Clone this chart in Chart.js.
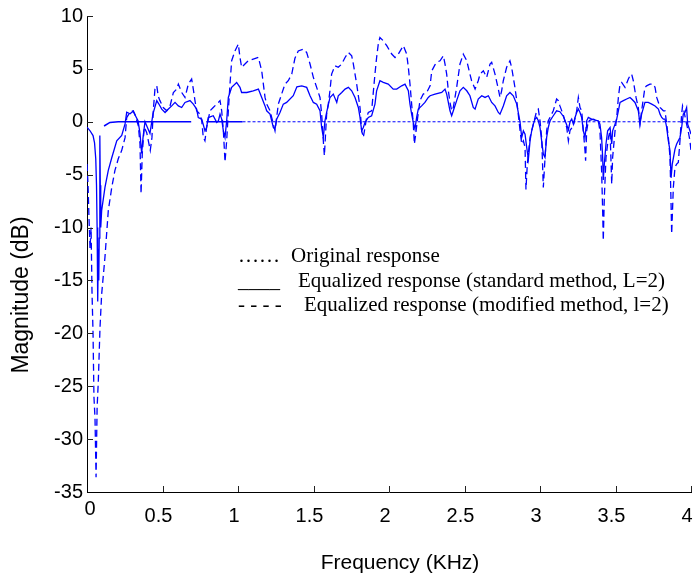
<!DOCTYPE html>
<html><head><meta charset="utf-8">
<script src="https://cdn.jsdelivr.net/npm/chart.js@4.4.1/dist/chart.umd.min.js"></script>
<style>html,body{margin:0;padding:0;background:#fff}#c{display:block}</style>
</head><body>
<canvas id="c" width="693" height="575"></canvas>
<script>
// ---------- data ----------
const freqOrig = [0.113, 0.152, 0.207, 0.69, 0.74, 0.79, 1.03, 4.0];
const magOrig  = [-0.4, -0.06, 0, 0, null, 0, 0, 0];

const freqStd = [0,0.02,0.04,0.05,0.058,0.063,0.067,0.07,0.072,0.075,0.078,0.081,0.084,0.086,0.088,0.091,0.097,0.119,0.141,0.164,0.197,0.23,0.252,0.263,0.285,0.305,0.338,0.351,0.362,0.371,0.384,0.417,0.437,0.462,0.475,0.495,0.517,0.539,0.561,0.583,0.605,0.627,0.649,0.682,0.704,0.726,0.737,0.76,0.781,0.792,0.803,0.836,0.859,0.87,0.881,0.892,0.903,0.914,0.925,0.936,0.958,0.991,1.013,1.024,1.058,1.101,1.135,1.157,1.179,1.19,1.212,1.234,1.245,1.256,1.278,1.3,1.322,1.366,1.39,1.422,1.455,1.477,1.499,1.521,1.543,1.554,1.565,1.576,1.587,1.609,1.631,1.654,1.664,1.687,1.709,1.731,1.753,1.775,1.797,1.808,1.819,1.83,1.841,1.863,1.885,1.907,1.918,1.94,1.962,1.995,2.028,2.051,2.084,2.106,2.128,2.139,2.15,2.161,2.172,2.183,2.194,2.216,2.238,2.26,2.272,2.305,2.349,2.371,2.382,2.393,2.404,2.415,2.426,2.448,2.47,2.492,2.515,2.536,2.558,2.57,2.591,2.614,2.636,2.658,2.68,2.702,2.724,2.735,2.757,2.779,2.801,2.823,2.846,2.856,2.868,2.879,2.89,2.901,2.912,2.923,2.934,2.945,2.956,2.967,2.978,2.989,3.0,3.011,3.022,3.033,3.044,3.055,3.066,3.088,3.11,3.132,3.155,3.177,3.188,3.199,3.21,3.221,3.232,3.243,3.254,3.265,3.276,3.287,3.298,3.305,3.309,3.32,3.342,3.364,3.386,3.397,3.408,3.415,3.419,3.426,3.437,3.448,3.464,3.475,3.481,3.497,3.508,3.519,3.53,3.552,3.574,3.596,3.607,3.629,3.651,3.662,3.673,3.695,3.717,3.74,3.762,3.784,3.795,3.806,3.817,3.828,3.839,3.85,3.861,3.868,3.876,3.894,3.905,3.927,3.938,3.949,3.96,3.971,3.978,3.993,4.0];
const magStd  = [-0.5,-0.85,-1.3,-2.0,-3.5,-6,-10,-14,-17,-12,-15,-11,-6,-1.3,-6,-10,-8.4,-6.2,-4.6,-3.4,-1.8,-1.3,-0.2,0.9,0.75,1.0,0.1,-1.1,-3,-1.5,0,-1.1,0.75,2,1.7,1.2,0.88,1.2,1.5,1.83,1.5,1.35,1.83,2.0,1.67,1.2,0.4,0.25,-0.85,-0.54,0.4,0.57,-0.06,0.09,0.72,0.25,-0.85,-1.48,0.09,2.3,3.25,3.72,3.25,2.77,2.77,2.93,3.09,2.3,1.5,1.04,0.72,-0.54,-0.69,0.25,0.88,1.67,1.83,2.46,3.3,3.4,3.25,2.46,1.83,1.67,1.04,-0.54,-1.48,0.09,0.88,2.3,2.62,1.83,2.46,2.77,3.09,3.25,2.93,2.3,1.35,0.41,-0.85,-0.54,-0.06,0.41,0.57,1.67,2.93,3.88,3.72,3.56,3.09,3.09,3.4,3.56,2.93,1.67,0.72,-0.06,-0.69,0.41,1.2,1.5,1.83,2.3,2.46,2.62,2.77,3.09,2.62,1.83,1.04,0.57,1.04,2.0,2.93,3.25,2.93,2.46,1.35,1.2,2.15,2.46,2.3,2.46,1.83,1.5,0.88,0.72,1.5,2.46,2.77,2.46,1.67,0.88,-0.06,-1.48,-0.85,-1.17,-2.43,-3.53,-1.8,-0.85,-0.22,0.25,0.41,0.09,-0.54,-1.8,-3.06,-3.37,-1.48,-0.54,0.09,0.57,1.04,0.95,0.5,-0.3,-0.75,0,0.25,-0.22,0.41,0.88,1.2,0.88,0.41,-0.85,-1.48,-0.54,0.09,0.41,0.25,0.15,0.09,-0.22,-1.48,-3.37,-5.5,-4.0,-2.1,-0.85,-0.54,-2.1,-0.85,-0.22,0.25,1.04,1.83,2.0,2.15,2.3,2.15,1.83,1.04,-0.22,0.72,1.83,1.83,1.67,1.5,1.2,0.72,0.41,0.25,0.25,-0.54,-1.8,-2.74,-5.3,-4.0,-2.58,-2.1,-1.48,-0.54,0.72,0.88,1.35,-0.22,-0.85,-1.17];

const freqMod = [0,0.007,0.013,0.02,0.027,0.033,0.04,0.046,0.053,0.06,0.067,0.075,0.086,0.097,0.119,0.141,0.164,0.185,0.207,0.23,0.252,0.263,0.285,0.307,0.318,0.34,0.351,0.358,0.366,0.379,0.395,0.419,0.43,0.439,0.45,0.462,0.472,0.483,0.505,0.528,0.55,0.572,0.594,0.605,0.627,0.649,0.671,0.693,0.704,0.715,0.726,0.748,0.76,0.77,0.781,0.792,0.815,0.836,0.87,0.881,0.892,0.903,0.909,0.914,0.925,0.936,0.947,0.958,0.98,1.002,1.013,1.024,1.046,1.068,1.101,1.135,1.157,1.168,1.179,1.19,1.212,1.234,1.245,1.256,1.267,1.289,1.311,1.333,1.356,1.377,1.399,1.432,1.455,1.477,1.499,1.521,1.543,1.554,1.565,1.572,1.581,1.587,1.598,1.609,1.62,1.642,1.664,1.687,1.709,1.731,1.753,1.764,1.775,1.786,1.808,1.819,1.83,1.841,1.852,1.863,1.885,1.907,1.918,1.929,1.94,1.962,1.985,2.018,2.04,2.062,2.095,2.117,2.128,2.139,2.15,2.161,2.168,2.177,2.19,2.205,2.227,2.25,2.272,2.283,2.305,2.316,2.338,2.36,2.371,2.382,2.393,2.404,2.415,2.426,2.448,2.47,2.492,2.515,2.536,2.547,2.57,2.591,2.603,2.625,2.647,2.669,2.68,2.702,2.724,2.735,2.746,2.757,2.779,2.801,2.812,2.823,2.834,2.846,2.856,2.868,2.879,2.89,2.901,2.907,2.916,2.934,2.956,2.978,2.989,3.0,3.011,3.022,3.033,3.044,3.055,3.066,3.088,3.11,3.121,3.132,3.155,3.177,3.188,3.199,3.221,3.243,3.254,3.265,3.276,3.287,3.298,3.302,3.309,3.32,3.353,3.386,3.397,3.408,3.415,3.419,3.426,3.437,3.453,3.464,3.475,3.481,3.497,3.508,3.519,3.53,3.541,3.563,3.585,3.596,3.607,3.618,3.636,3.651,3.662,3.673,3.695,3.706,3.728,3.75,3.762,3.773,3.795,3.817,3.828,3.839,3.85,3.861,3.868,3.872,3.883,3.894,3.905,3.916,3.927,3.938,3.944,3.953,3.966,3.981,3.993,4.0];
const magMod  = [-4,-6,-9,-12,-10,-16,-20,-26,-28,-33.6,-27,-24.5,-19.5,-16.3,-12.8,-8.4,-6.2,-4.6,-3.5,-2.7,-1.5,0.4,0.9,1.04,0.7,-0.38,-2.1,-6.8,-3,-0.5,-1.0,-2.7,-1.5,1.04,3.1,3.4,2.4,2.0,1.35,1.04,1.5,2.77,3.09,3.56,2.77,2.3,3.56,4.04,3.09,2.0,1.04,0.72,0.09,-1.48,-1.8,-0.54,1.04,1.35,1.83,2.0,1.04,-0.85,-2.43,-3.8,-1.8,1.04,3.56,5.77,6.7,7.34,6.1,5.15,5.46,5.77,5.93,6.1,4.82,3.56,2.3,1.67,1.04,-0.22,-0.85,0.41,1.67,2.62,3.56,3.88,4.51,6.0,6.7,6.87,6.55,5.46,4.2,3.25,2.3,0.72,-1.8,-3.21,-0.85,0.72,1.67,2.93,4.51,5.3,5.15,5.46,6.08,6.55,6.24,5.46,4.51,3.56,1.35,-0.85,-1.48,-0.54,0.41,0.88,1.04,4.51,6.08,7.34,7.97,7.66,7.19,6.4,6.08,6.4,7.19,6.4,5.15,3.56,1.67,-0.22,-2.1,-1.17,0.41,2.0,2.62,2.77,3.4,4.8,5.4,5.62,5.77,6.24,5.46,4.51,2.93,1.83,1.04,1.35,3.25,5.46,6.4,5.77,4.51,3.88,3.09,3.88,4.51,4.82,4.2,5.46,5.62,4.51,3.09,2.3,2.93,3.88,5.15,5.77,5.15,4.2,3.25,2.0,0.72,-0.85,-2.1,-1.8,-2.43,-6.4,-4.0,-1.48,-0.22,1.04,1.2,0.09,-1.48,-6.2,-3.5,-0.85,0.09,0.41,1.04,2.15,2.0,1.5,0.6,-0.54,-1.8,-0.8,-0.38,1.04,2.3,1.35,1.04,-0.85,-2.74,-3.69,-0.85,0.09,0.25,0.09,-0.85,-4.63,-8.4,-11.24,-7.15,-3.37,-1.48,-0.85,-5.89,-3.37,-0.85,0.41,2.3,3.56,3.72,3.25,4.04,4.35,4.51,3.88,2.3,1.35,-0.22,1.04,3.25,3.4,3.56,3.56,3.25,2.3,1.35,1.04,1.04,-0.22,-1.48,-3.37,-7.78,-10.6,-6.2,-4.3,-4.0,-3.84,-1.8,0.72,1.5,1.04,0.09,-0.85,-1.8,-2.74];

const xTicks = [0, 0.5, 1, 1.5, 2, 2.5, 3, 3.5, 4];
const yTicks = [10, 5, 0, -5, -10, -15, -20, -25, -30, -35];
const seriesNames = ['Original response', 'Equalized response (standard method, L=2)', 'Equalized response (modified method, l=2)'];
const legendSymbols = ['\u2026\u2026', '____', '- - - -'];
const xTitle = 'Frequency (KHz)';
const yTitle = 'Magnitude (dB)';

// ---------- drawing ----------
const BLUE = '#0000ff';
const SANS = '"Liberation Sans", Arial, sans-serif';
const SERIF = '"Liberation Serif", "Times New Roman", serif';
const toPts = (xs, ys) => xs.map((x, i) => ({x: x, y: ys[i]}));
const noPad = s => { s.paddingLeft = 0; s.paddingRight = 0; s.paddingTop = 0; s.paddingBottom = 0; };

const decor = {
  id: 'decor',
  afterDraw(chart) {
    const c = chart.ctx, xs = chart.scales.x, ys = chart.scales.y, a = chart.chartArea;
    c.save();
    // inward tick marks
    c.strokeStyle = '#222'; c.lineWidth = 1;
    c.beginPath();
    yTicks.forEach(v => { const p = Math.round(ys.getPixelForValue(v)) + 0.5; if (v !== -35) { c.moveTo(a.left, p); c.lineTo(a.left + 6, p); } });
    xTicks.forEach(v => { const p = Math.round(xs.getPixelForValue(v)) + 0.5; if (v !== 0) { c.moveTo(p, a.bottom); c.lineTo(p, a.bottom - 6); } });
    c.stroke();
    // '0' label sits a bit higher than the others
    c.fillStyle = '#000';
    c.font = '20px ' + SANS; c.textAlign = 'center'; c.textBaseline = 'middle';
    c.fillText('0', xs.getPixelForValue(0) + 3, 509);
    // axis titles
    c.font = '21px ' + SANS;
    c.fillText(xTitle, 400, 563);
    c.save(); c.translate(22, 295); c.rotate(-Math.PI / 2);
    c.font = '23px ' + SANS; c.fillText(yTitle, 0, 0); c.restore();
    // legend (text only, as in the reference)
    c.font = '21px ' + SERIF; c.textAlign = 'left'; c.textBaseline = 'alphabetic';
    c.fillText(legendSymbols[0], 238, 262); c.fillText(seriesNames[0], 291, 262);
    c.fillText(legendSymbols[1], 238, 287); c.fillText(seriesNames[1], 298, 287);
    c.fillText(legendSymbols[2], 238, 311); c.fillText(seriesNames[2], 304, 311);
    c.restore();
  }
};

new Chart(document.getElementById('c'), {
  type: 'line',
  data: { datasets: [
    { label: seriesNames[0], data: toPts(freqOrig, magOrig), borderColor: BLUE, borderWidth: 1, pointRadius: 0, spanGaps: false,
      segment: { borderDash: s => s.p0.parsed.x < 1.0 ? [] : [3, 2], borderWidth: s => s.p0.parsed.x < 1.0 ? 1.6 : 1 } },
    { label: seriesNames[1], data: toPts(freqStd, magStd), borderColor: BLUE, borderWidth: 1.3, pointRadius: 0 },
    { label: seriesNames[2], data: toPts(freqMod, magMod), borderColor: BLUE, borderWidth: 1.3, borderDash: [7, 4], pointRadius: 0 }
  ]},
  options: {
    responsive: false, animation: false, events: [],
    layout: { autoPadding: false, padding: { left: 0, right: 2, top: 16, bottom: 0 } },
    plugins: { legend: { display: false }, tooltip: { enabled: false } },
    scales: {
      x: { type: 'linear', min: 0, max: 4,
        afterBuildTicks: s => { s.ticks = xTicks.map(v => ({ value: v })); },
        afterFit: s => { s.height = 83; noPad(s); },
        grid: { display: false, drawTicks: false },
        border: { display: true, color: '#000', width: 1 },
        ticks: { color: '#000', font: { family: SANS, size: 20 }, padding: 12, labelOffset: -4, maxRotation: 0, autoSkip: false,
          callback: v => v === 0 ? '' : String(v) } },
      y: { type: 'linear', min: -35, max: 10,
        afterBuildTicks: s => { s.ticks = yTicks.map(v => ({ value: v })); },
        afterFit: s => { s.width = 87; noPad(s); },
        grid: { display: false, drawTicks: false },
        border: { display: true, color: '#000', width: 1 },
        ticks: { color: '#000', font: { family: SANS, size: 20 }, padding: 4, autoSkip: false, callback: v => String(v) } }
    }
  },
  plugins: [decor]
});
</script>
</body></html>
